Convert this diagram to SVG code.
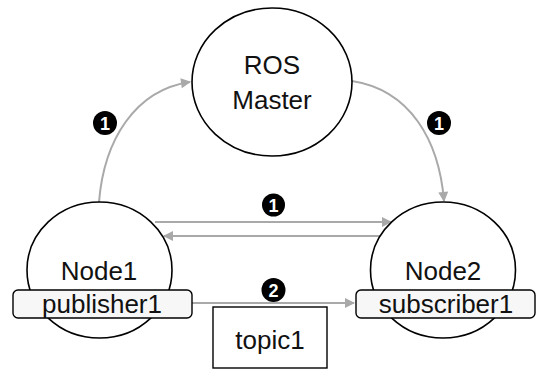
<svg xmlns="http://www.w3.org/2000/svg" width="538" height="369" viewBox="0 0 538 369">
<defs>
<style>
.node{fill:#ffffff;stroke:#000;stroke-width:1.6}
.port{fill:#f7f7f7;stroke:#000;stroke-width:1.4}
.lbl{font-family:"Liberation Sans",Arial,sans-serif;font-size:26px;fill:#111;text-anchor:middle}
.edge{fill:none;stroke:#a9a9a9;stroke-width:2;marker-end:url(#ah)}
.badge circle{fill:#000}
.badge text{font-family:"Liberation Sans",Arial,sans-serif;font-size:18px;font-weight:bold;fill:#fff;text-anchor:middle}
</style>
<marker id="ah" viewBox="0 0 10 10" refX="9" refY="5" markerWidth="5.5" markerHeight="5" orient="auto" markerUnits="strokeWidth">
<path d="M0,0 L10,5 L0,10 z" fill="#a9a9a9"/>
</marker>
</defs>
<rect width="538" height="369" fill="#fff"/>
<g id="connectors">
<path class="edge" d="M99,202 C104,140 135,90 190,82"/>
<path class="edge" d="M352,81 C410,90 439,140 444,201"/>
<path class="edge" d="M155,222 L391,222"/>
<path class="edge" d="M380,236 L164,236"/>
<path class="edge" d="M192,303 L354,303"/>
</g>
<g id="ros-master">
<ellipse class="node" cx="272" cy="82" rx="80" ry="74"/>
<text class="lbl" x="272" y="74">ROS</text>
<text class="lbl" x="272" y="109">Master</text>
</g>
<g id="node1">
<ellipse class="node" cx="99.5" cy="270" rx="72.5" ry="68"/>
<text class="lbl" x="99" y="280">Node1</text>
<rect class="port" x="13" y="290" width="179" height="28" rx="5"/>
<text class="lbl" x="102" y="313">publisher1</text>
</g>
<g id="node2">
<ellipse class="node" cx="443" cy="270" rx="72.5" ry="68"/>
<text class="lbl" x="443" y="280">Node2</text>
<rect class="port" x="356" y="290" width="179" height="28" rx="5"/>
<text class="lbl" x="446" y="313">subscriber1</text>
</g>
<g id="topic1">
<rect x="213" y="307" width="114" height="61" fill="#fff" stroke="#000" stroke-width="1.4"/>
<text class="lbl" x="270" y="349">topic1</text>
</g>
<g id="badges">
<g class="badge"><circle cx="105" cy="123" r="12"/><text x="105" y="129.5">1</text></g>
<g class="badge"><circle cx="439" cy="123" r="12"/><text x="439" y="129.5">1</text></g>
<g class="badge"><circle cx="273.5" cy="205" r="11.5"/><text x="273.5" y="211.5">1</text></g>
<g class="badge"><circle cx="273.5" cy="290" r="12"/><text x="273.5" y="296.5">2</text></g>
</g>
</svg>
